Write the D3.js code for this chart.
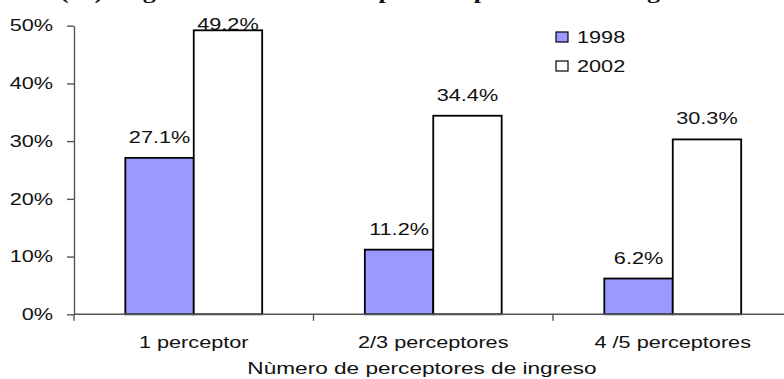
<!DOCTYPE html>
<html>
<head>
<meta charset="utf-8">
<script src="https://cdn.jsdelivr.net/npm/d3@7"></script>
<style>
  html, body { margin: 0; padding: 0; background: #fff; }
  svg { display: block; }
</style>
</head>
<body>
<script>
// Chart data
const categories = ["1 perceptor", "2/3 perceptores", "4 /5 perceptores"];
const seriesNames = ["1998", "2002"];
const values1998 = [27.1, 11.2, 6.2];
const values2002 = [49.2, 34.4, 30.3];
const yTickValues = [0, 10, 20, 30, 40, 50];
const seriesFills = ["#9999FF", "#FFFFFF"];
const titleText = "(%) Hogares en situación de pobreza por tramo de ingreso";
const xAxisTitle = "Nùmero de perceptores de ingreso";

const W = 784, H = 379;
const stretch = 1.33;            // text is drawn horizontally widened
const font = "'Liberation Sans', Arial, sans-serif";
const fs = 16.3;

const svg = d3.select("body").append("svg")
  .attr("width", W).attr("height", H)
  .style("font-family", font);

const plot = { left: 74, right: 792.5, top: 25.7, bottom: 314.3 };

const y = d3.scaleLinear().domain([0, 50]).range([plot.bottom, plot.top]);
const x = d3.scaleBand().domain(categories).range([plot.left, plot.right])
  .paddingInner(0).paddingOuter(0);
const xs = d3.scaleBand().domain(seriesNames).range([0, x.bandwidth()])
  .paddingInner(0).paddingOuter(0.75);

const rows = categories.map((c, i) => ({ cat: c, vals: [values1998[i], values2002[i]] }));

// helper for widened text
function wideText(sel, tx, ty, str, anchor, size, extra) {
  const t = sel.append("text")
    .attr("transform", `translate(${tx},${ty}) scale(${stretch},1)`)
    .attr("text-anchor", anchor)
    .attr("font-size", size)
    .attr("fill", "#111")
    .text(str);
  if (extra) extra(t);
  return t;
}

// Title (its upper part lies above the top edge)
wideText(svg, 60, -1.5, titleText, "start", 19.5, t =>
  t.attr("font-family", "'Liberation Serif', 'Times New Roman', serif")
   .attr("font-weight", "bold"));

// Bars
const groups = svg.append("g").selectAll("g")
  .data(rows).join("g")
  .attr("transform", d => `translate(${x(d.cat)},0)`);

groups.selectAll("rect")
  .data(d => d.vals.map((v, j) => ({ key: seriesNames[j], v, j })))
  .join("rect")
  .attr("x", d => xs(d.key))
  .attr("y", d => y(d.v))
  .attr("width", xs.bandwidth())
  .attr("height", d => y(0) - y(d.v))
  .attr("fill", d => seriesFills[d.j])
  .attr("stroke", "#000")
  .attr("stroke-width", 1.8);

// Value labels
groups.each(function (d) {
  const g = d3.select(this);
  d.vals.forEach((v, j) => {
    const cx = xs(seriesNames[j]) + xs.bandwidth() / 2;
    const by = Math.max(y(v) - 15, 29.5);
    wideText(g, cx, by, v.toFixed(1) + "%", "middle", fs);
  });
});

// Y axis
const yAxis = svg.append("g")
  .attr("transform", `translate(${plot.left},0)`)
  .call(d3.axisLeft(y).tickValues(yTickValues).tickFormat(d => d + "%")
    .tickSize(7).tickSizeOuter(0).tickPadding(8.8));
yAxis.select(".domain").attr("stroke", "#555").attr("stroke-width", 1.4);
yAxis.selectAll(".tick line").attr("stroke", "#555").attr("stroke-width", 1.4);
yAxis.selectAll(".tick text")
  .attr("font-size", fs).attr("font-family", font).attr("fill", "#111")
  .attr("transform", `scale(${stretch},1)`);

// X axis line and category boundary ticks
const xAxisG = svg.append("g");
xAxisG.append("line")
  .attr("x1", plot.left).attr("x2", plot.right)
  .attr("y1", y(0)).attr("y2", y(0))
  .attr("stroke", "#555").attr("stroke-width", 1.4);
const bounds = categories.map(c => x(c)).concat([x(categories[categories.length - 1]) + x.bandwidth()]);
xAxisG.selectAll("line.b").data(bounds).join("line")
  .attr("class", "b")
  .attr("x1", d => d).attr("x2", d => d)
  .attr("y1", y(0)).attr("y2", y(0) + 6.5)
  .attr("stroke", "#555").attr("stroke-width", 1.4);

// Category labels
const xLab = svg.append("g")
  .attr("transform", `translate(0,${y(0)})`)
  .call(d3.axisBottom(x).tickSize(0).tickPadding(0));
xLab.select(".domain").remove();
xLab.selectAll(".tick text")
  .attr("font-size", fs).attr("font-family", font).attr("fill", "#111")
  .attr("dy", null).attr("y", 33.5)
  .attr("transform", `scale(${stretch},1)`);

// Axis title
wideText(svg, 422, 373.5, xAxisTitle, "middle", 17);

// Legend
const legend = svg.append("g");
seriesNames.forEach((s, i) => {
  const ly = 32 + i * 29;
  legend.append("rect")
    .attr("x", 556).attr("y", ly)
    .attr("width", 12).attr("height", 10)
    .attr("fill", seriesFills[i]).attr("stroke", "#000").attr("stroke-width", 1.2);
  wideText(legend, 577, ly + 11, s, "start", fs);
});
</script>
</body>
</html>
